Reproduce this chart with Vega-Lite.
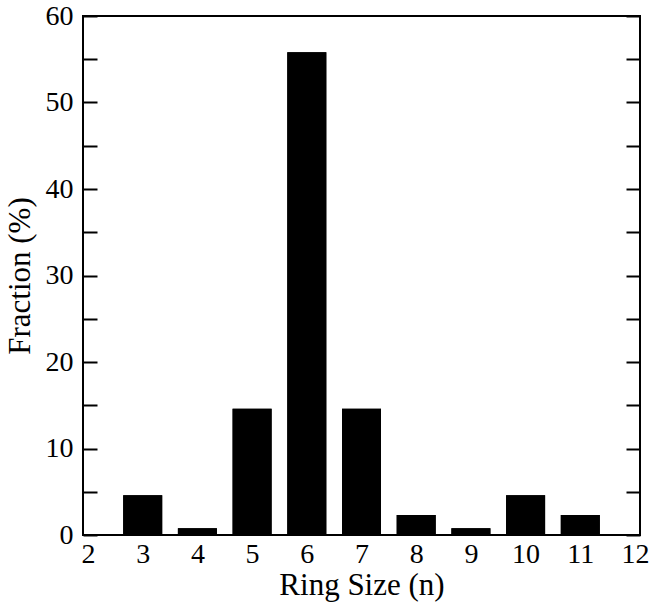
{
  "$schema": "https://vega.github.io/schema/vega-lite/v6.json",
  "width": 557,
  "height": 519,
  "autosize": "none",
  "padding": {"left": 83, "top": 16, "right": 16, "bottom": 70},
  "background": "white",
  "config": {
    "view": {"stroke": "black", "strokeWidth": 2},
    "font": "Liberation Serif",
    "axis": {"labelFont": "Liberation Serif", "titleFont": "Liberation Serif", "labelColor": "black", "titleColor": "black", "titleFontWeight": "normal", "grid": false, "domain": false}
  },
  "data": {
    "values": [
      {"n": 3, "fraction": 4.6},
      {"n": 4, "fraction": 0.77},
      {"n": 5, "fraction": 14.6},
      {"n": 6, "fraction": 55.8},
      {"n": 7, "fraction": 14.6},
      {"n": 8, "fraction": 2.3},
      {"n": 9, "fraction": 0.77},
      {"n": 10, "fraction": 4.6},
      {"n": 11, "fraction": 2.3}
    ]
  },
  "layer": [
    {
      "mark": {"type": "bar", "color": "black", "size": 39},
      "encoding": {
        "x": {
          "field": "n", "type": "quantitative",
          "scale": {"domain": [2, 12], "nice": false, "zero": false},
          "axis": {"title": "Ring Size (n)", "values": [2,3,4,5,6,7,8,9,10,11,12], "ticks": false, "labelPadding": 5, "labelFontSize": 28, "titleFontSize": 31, "titlePadding": 2, "labelFlush": false}
        },
        "y": {
          "field": "fraction", "type": "quantitative",
          "scale": {"domain": [0, 60], "nice": false},
          "axis": {
            "title": "Fraction (%)", "orient": "left",
            "values": [0,5,10,15,20,25,30,35,40,45,50,55,60],
            "labelExpr": "datum.value % 10 === 0 ? datum.label : ''",
            "tickSize": -14, "tickWidth": 2, "tickColor": "black",
            "labelPadding": 24, "labelFontSize": 28, "titleFontSize": 31, "titlePadding": 9, "labelFlush": false,
            "encode": {"ticks": {"update": {"x2": {"signal": "datum.value % 10 === 0 ? 14 : 7"}}}}
          }
        }
      }
    },
    {
      "mark": {"type": "bar", "color": "black", "size": 39},
      "encoding": {
        "x": {"field": "n", "type": "quantitative"},
        "y": {
          "field": "fraction", "type": "quantitative",
          "axis": {
            "title": null, "orient": "right",
            "values": [0,5,10,15,20,25,30,35,40,45,50,55,60],
            "labels": false,
            "tickSize": -14, "tickWidth": 2, "tickColor": "black",
            "encode": {"ticks": {"update": {"x2": {"signal": "datum.value % 10 === 0 ? -14 : -7"}}}}
          }
        }
      }
    }
  ],
  "resolve": {"axis": {"y": "independent"}}
}
